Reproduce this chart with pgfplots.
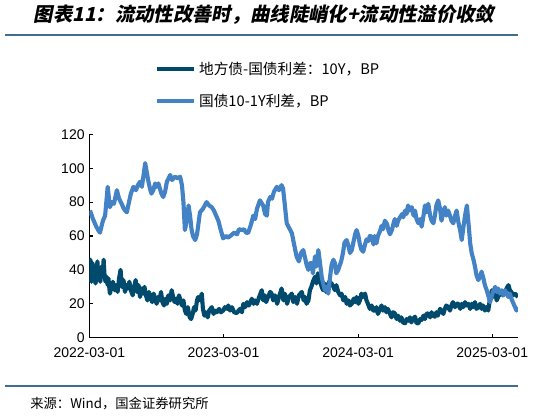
\documentclass[border=0pt]{standalone}
\usepackage{pgfplots}
\pgfplotsset{compat=1.18}
\usepackage{pgfplotstable}
\usepackage{fontspec}
\setmainfont{Liberation Sans}
\newfontfamily\cjk{Noto Sans CJK SC}
\newfontfamily\cjktitle[FakeSlant=0.2]{Noto Sans CJK SC}

\definecolor{darkteal}{HTML}{004A6E}
\definecolor{lightblue}{HTML}{4382C4}
\definecolor{rulecol}{HTML}{3F6F8F}

% x = days since 2022-03-01, y = spread in BP
\pgfplotstableread{
day val
1 38
3 46
6 33
9 44
11 35
14 40
17 32
20 38
22 45
25 34
28 39
30 33
33 42
36 36
39 46
41 38
44 33
47 36
50 31
52 35
56 26
60 30
64 33
69 28
73 31
77 27
81 35
85 40
89 30
93 34
97 27
101 31
105 29
109 33
113 28
118 25
122 30
126 34
130 27
134 31
138 24
142 29
146 26
150 30
154 25
158 22
162 27
166 24
171 21
175 26
179 23
183 20
187 24
191 22
195 27
199 21
203 19
207 23
211 20
215 25
220 22
224 28
228 24
232 21
236 23
240 20
244 25
248 22
252 19
256 22
260 16
264 14
268 18
273 12
277 11
281 14
285 18
289 16
293 22
296 24
301 22
306 26
309 17
313 13
317 15
322 12
326 16
333 18
338 14
342 16
347 15
353 17
358 15
364 16
369 18
375 17
378 19
383 16
388 18
394 15
401 14.5
406 16
410 17
415 15
419 20
424 18
429 21
434 19
442 23
447 20
451 22
456 20
462 24
469 28
473 22
477 25
481 21
486 24
492 27
496 26
500 22
505 25
511 20
516 24
523 29
528 22
532 26
538 20
543 24
551 26
555 21
560 24
565 20
570 25
578 27
583 22
587 24
591 20
596 22
600 28
604 30
608 33
614 36
618 32
622 38
626 35
632 30
636 28
640 32
644 27
648 30
652 33
659 32
664 30
668 28
672 31
677 27
682 25
686 26
691 22
696 24
700 20
705 22
709 19
714 20
719 23
723 21
727 24
732 20
736 22
740 26
744 24
750 26
754 22
758 20
763 17
768 19
772 16
777 16
781 18
785 14
791 17
795 19
799 16
804 18
808 15
812 17
818 14
822 12
826 15
831 14.4
836 11
840 13
845 10
849 12
853 9
859 8.5
863 11
867 10
872 12
876 9
880 11
886 12.4
890 8.6
895 8.5
900 11
904 10.5
909 13
913 11
917 14
922 14.4
927 12
931 15
935 13
940 12.4
944 15
948 13
954 17
958 16
963 14
967 17
971 19
976 18
981 16
985 19
989 21
995 18
999 20
1004 20
1009 17
1013 20
1017 18
1022 21
1026 19
1031 20
1036 17
1040 20
1044 18
1049 21
1053 17
1058 18
1063 20
1067 17
1071 19
1076 16
1080 18
1085 16
1090 23
1095 28
1098 24
1104 27
1108 22
1112 24
1117 26
1121 27
1125 25
1131 27
1135 29
1140 31
1144 28
1148 27
1152 25
1158 26
1162 25
1166 24
}\localspread

\pgfplotstableread{
day val
2 75
10 70
18 66
24 63.5
29 62
37 69
43 72
50 89
56 77
62 80
67 79
75 87
81 82
88 79
94 76
102 74
108 80
113 85
120 89
127 87
132 90
138 92
143 89
147 95
152 103
156 98
160 93
165 88
169 85
174 87
179 91
183 89
188 91
192 88
196 85
201 83
206 86
211 92
220 96
225 93
233 95
241 94
247 95
252 90
256 80
260 63.5
266 70
270 78
274 72
278 64
282 60
288 57.6
293 61
301 74
309 76
319 80
326 78
333 77
339 75
345 72
351 69
357 64
364 58.6
372 60
377 59
387 60.6
394 62
402 61
407 64
415 63.5
421 64
426 62
432 61.8
440 67
446 72
451 70
456 76
464 81
473 78
478 73
483 72
486 80
492 83
497 82
502 86
510 89
516 87
523 90
527 88
531 80
537 67.5
543 65
551 61.6
557 55
564 47.8
570 45
576 50
582 51.7
587 47
591 43
596 40
600 44
605 44
608 38
614 48
618 42
623 51.7
627 45
632 36
636 32
641 28
645 30
650 26
655 36
659 43
664 46
668 44
672 38
677 40
685 45
690 50
694 56
700 57.6
705 54
709 50
714 51.7
719 57
723 61
727 63.5
732 60
736 55
740 52
745 50.7
750 55
754 58
759 57
763 60
768 59.6
773 55
776 60
781 55.7
785 60
791 63
795 66
799 64
804 69
810 67
814 63
818 61
823 63.5
827 67
831 70
836 66
840 69
845 71
851 73
854 71
859 75
863 73
867 78
871 75
877 77
882 72
886 75
890 70
895 67.5
900 70
904 65.5
909 72
913 78
917 74
922 79
927 72
931 69
936 67.5
940 72
944 78
949 81
954 76
958 69
963 74
967 77
971 72
976 75
981 72
985 69
990 67.5
995 72
999 75
1004 68
1009 63
1013 57.6
1018 66
1022 72
1027 78
1032 66
1036 55.7
1040 50
1045 46
1049 42
1053 37
1058 34
1063 36
1067 39
1072 35
1076 31
1081 28
1085 25
1090 21
1094 24
1098 27
1104 30
1108 27
1112 29
1117 26
1122 28
1127 25
1131 28
1135 26
1140 24
1144 26
1148 23
1152 21
1158 18
1162 16
1166 18
}\termspread

\begin{document}
\begin{tikzpicture}[x=1pt,y=1pt]
\useasboundingbox (0,0) rectangle (419.25,312.75);
\node[font=\cjktitle\bfseries\fontsize{14.5}{16}\selectfont] at (198,301.5)
  {图表11：流动性改善时，曲线陡峭化+流动性溢价收敛};
\draw[rulecol, line width=1.5pt] (3.75,286.5) -- (388.5,286.5);
\draw[rulecol, line width=1.5pt] (3.75,23.25) -- (388.5,23.25);
\node[anchor=west, inner sep=0pt, font=\cjk\fontsize{10}{12}\selectfont] at (22.5,9.75)
  {来源：Wind，国金证券研究所};

\begin{axis}[
    at={(66.98pt,59.48pt)}, anchor=south west,
    scale only axis, width=321.5pt, height=152.55pt,
    axis lines=left, axis line style={-, line width=0.8pt},
    xmin=0, xmax=1166, ymin=0, ymax=120,
    xtick={0,365,731,1096},
    xticklabels={2022-03-01,2023-03-01,2024-03-01,2025-03-01},
    ytick={0,20,...,120},
    tick align=inside, major tick length=3pt,
    tick style={line width=0.8pt, black},
    ticklabel style={font=\fontsize{10.5}{12}\selectfont},
    xticklabel style={yshift=-4pt},
    /pgf/number format/assume math mode=true,
    legend style={at={(0.153,1.37)}, anchor=north west, draw=none, fill=none,
        font=\cjk\fontsize{11}{13}\selectfont, row sep=9pt, inner sep=0pt},
    legend cell align=left,
    legend image code/.code={\draw[#1, line width=3pt] (0pt,0pt) -- (28pt,0pt);},
]
\addplot[darkteal, line width=3.1pt, line join=round] table[x=day, y=val] {\localspread};
\addlegendentry{地方债-国债利差：10Y，BP}
\addplot[lightblue, line width=3.1pt, line join=round] table[x=day, y=val] {\termspread};
\addlegendentry{国债10-1Y利差，BP}
\end{axis}
\end{tikzpicture}
\end{document}
